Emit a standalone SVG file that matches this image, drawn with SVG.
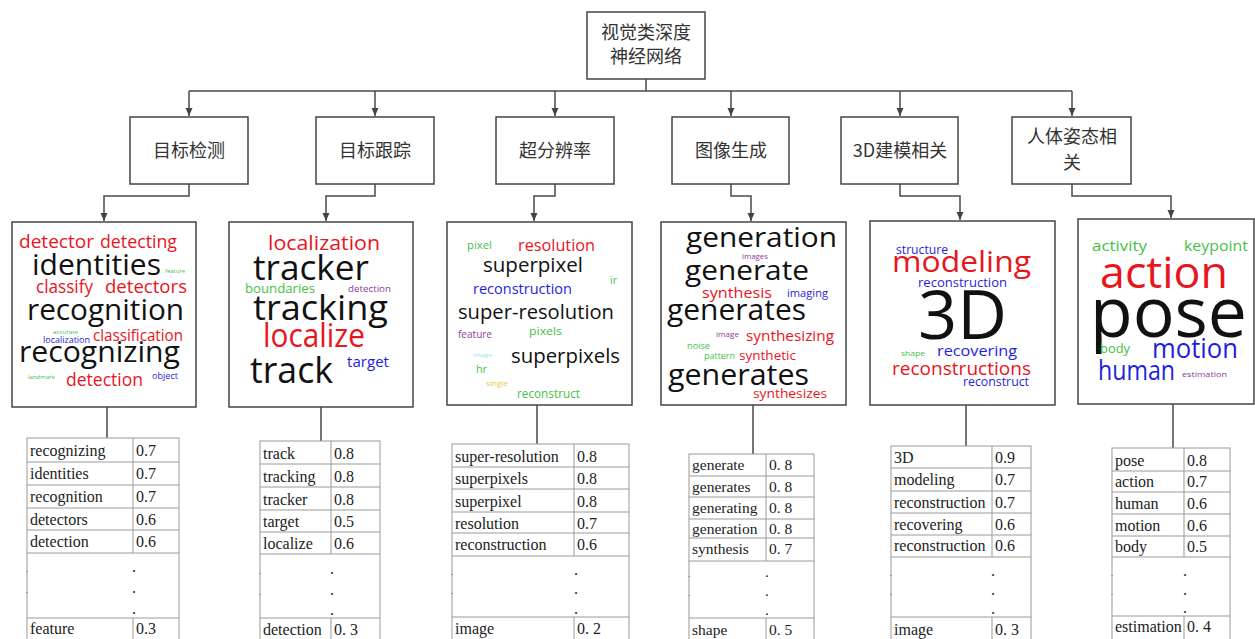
<svg xmlns="http://www.w3.org/2000/svg" width="1255" height="639" viewBox="0 0 1255 639">
<defs>
<marker id="arr" markerWidth="8" markerHeight="8" refX="8" refY="4" orient="auto" markerUnits="userSpaceOnUse">
<path d="M0,0.5 L8,4 L0,7.5 z" fill="#444"/>
</marker>
<style>
.box{fill:#fff;stroke:#444;stroke-width:1.5}
.cloud{fill:#fff;stroke:#444;stroke-width:1.5}
.cn{font-family:"Noto Sans CJK SC","Noto Sans",sans-serif;font-size:18px;fill:#333;text-anchor:middle}
.w{font-family:"Open Sans","DejaVu Sans",sans-serif}
.k{fill:#111}.r{fill:#e8151d}.b{fill:#1e1ee0}.g{fill:#45bf45}.p{fill:#8b3c99}.c{fill:#9ee3e3}.y{fill:#e8c94a}
.tb{fill:#fff;stroke:#9a9a9a;stroke-width:1}
.tl{stroke:#9a9a9a;stroke-width:1}
.t{font-family:"Liberation Serif","Times New Roman",serif;font-size:16px;fill:#222}
.t4{font-size:15.5px}
.ln{fill:none;stroke:#4a4a4a;stroke-width:1.5}
</style>
</defs>
<rect width="1255" height="639" fill="#fff"/>

<g id="connectors">
<path class="ln" d="M646,79 V91 M189,91 H1072"/>
<path class="ln" d="M189,91 V116" marker-end="url(#arr)"/>
<path class="ln" d="M375,91 V116" marker-end="url(#arr)"/>
<path class="ln" d="M555,91 V116" marker-end="url(#arr)"/>
<path class="ln" d="M731,91 V116" marker-end="url(#arr)"/>
<path class="ln" d="M900,91 V116" marker-end="url(#arr)"/>
<path class="ln" d="M1072,91 V116" marker-end="url(#arr)"/>
<path class="ln" d="M189,184 V196 H104 V221" marker-end="url(#arr)"/>
<path class="ln" d="M375,184 V196 H326 V221" marker-end="url(#arr)"/>
<path class="ln" d="M555,184 V196 H534 V221" marker-end="url(#arr)"/>
<path class="ln" d="M731,184 V196 H751 V221" marker-end="url(#arr)"/>
<path class="ln" d="M900,184 V196 H960 V220" marker-end="url(#arr)"/>
<path class="ln" d="M1072,184 V196 H1171 V218" marker-end="url(#arr)"/>
<path class="ln" d="M107,407 V438 M321,407 V441 M537,405 V444 M753,405 V454 M966,405 V446 M1173,404 V448"/>
</g>

<g id="root">
<rect class="box" x="587" y="12" width="118" height="67"/>
<text class="cn" x="646" y="39">视觉类深度</text>
<text class="cn" x="646" y="63">神经网络</text>
</g>

<g id="n-detect"><rect class="box" x="130" y="117" width="118" height="67"/><text class="cn" x="189" y="157">目标检测</text></g>
<g id="n-track"><rect class="box" x="316" y="117" width="118" height="67"/><text class="cn" x="375" y="157">目标跟踪</text></g>
<g id="n-sr"><rect class="box" x="496" y="117" width="118" height="67"/><text class="cn" x="555" y="157">超分辨率</text></g>
<g id="n-gen"><rect class="box" x="672" y="117" width="117" height="67"/><text class="cn" x="731" y="157">图像生成</text></g>
<g id="n-3d"><rect class="box" x="841" y="117" width="117" height="67"/><text class="cn" x="900" y="157">3D建模相关</text></g>
<g id="n-pose"><rect class="box" x="1012" y="117" width="119" height="67"/><text class="cn" x="1072" y="143">人体姿态相</text><text class="cn" x="1072" y="169">关</text></g>

<g id="cloud-detect" class="w">
<rect class="cloud" x="12" y="222" width="184" height="185"/>
<text class="r" x="19" y="248" font-size="18" textLength="75" lengthAdjust="spacingAndGlyphs">detector</text>
<text class="r" x="100" y="248" font-size="18" textLength="77" lengthAdjust="spacingAndGlyphs">detecting</text>
<text class="k" x="32" y="275" font-size="29" textLength="129" lengthAdjust="spacingAndGlyphs">identities</text>
<text class="g" x="165" y="273" font-size="6" textLength="20" lengthAdjust="spacingAndGlyphs">feature</text>
<text class="r" x="36" y="293" font-size="18" textLength="57" lengthAdjust="spacingAndGlyphs">classify</text>
<text class="r" x="105" y="293" font-size="18" textLength="82" lengthAdjust="spacingAndGlyphs">detectors</text>
<text class="k" x="27" y="320" font-size="30" textLength="157" lengthAdjust="spacingAndGlyphs">recognition</text>
<text class="g" x="53" y="334" font-size="6" textLength="25" lengthAdjust="spacingAndGlyphs">accurate</text>
<text class="b" x="43" y="343" font-size="9" textLength="47" lengthAdjust="spacingAndGlyphs">localization</text>
<text class="r" x="93" y="341" font-size="16" textLength="90" lengthAdjust="spacingAndGlyphs">classification</text>
<text class="k" x="19" y="362" font-size="30" textLength="161" lengthAdjust="spacingAndGlyphs">recognizing</text>
<text class="g" x="28" y="379" font-size="6" textLength="27" lengthAdjust="spacingAndGlyphs">landmark</text>
<text class="r" x="66" y="386" font-size="18" textLength="77" lengthAdjust="spacingAndGlyphs">detection</text>
<text class="b" x="152" y="379" font-size="9" textLength="26" lengthAdjust="spacingAndGlyphs">object</text>
</g>

<g id="cloud-track" class="w">
<rect class="cloud" x="229" y="222" width="184" height="185"/>
<text class="r" x="268" y="250" font-size="20" textLength="112" lengthAdjust="spacingAndGlyphs">localization</text>
<text class="k" x="253" y="280" font-size="35" textLength="116" lengthAdjust="spacingAndGlyphs">tracker</text>
<text class="g" x="245" y="293" font-size="13" textLength="70" lengthAdjust="spacingAndGlyphs">boundaries</text>
<text class="p" x="348" y="292" font-size="9" textLength="43" lengthAdjust="spacingAndGlyphs">detection</text>
<text class="k" x="253" y="320" font-size="35" textLength="135" lengthAdjust="spacingAndGlyphs">tracking</text>
<text class="r" x="263" y="347" font-size="32" textLength="102" lengthAdjust="spacingAndGlyphs">localize</text>
<text class="k" x="250" y="383" font-size="37" textLength="83" lengthAdjust="spacingAndGlyphs">track</text>
<text class="b" x="347" y="367" font-size="14" textLength="42" lengthAdjust="spacingAndGlyphs">target</text>
</g>

<g id="cloud-sr" class="w">
<rect class="cloud" x="447" y="222" width="185" height="183"/>
<text class="g" x="467" y="249" font-size="10" textLength="25" lengthAdjust="spacingAndGlyphs">pixel</text>
<text class="r" x="518" y="251" font-size="16" textLength="77" lengthAdjust="spacingAndGlyphs">resolution</text>
<text class="k" x="483" y="272" font-size="20" textLength="100" lengthAdjust="spacingAndGlyphs">superpixel</text>
<text class="g" x="610" y="284" font-size="10" textLength="7" lengthAdjust="spacingAndGlyphs">ir</text>
<text class="b" x="473" y="294" font-size="14" textLength="99" lengthAdjust="spacingAndGlyphs">reconstruction</text>
<text class="k" x="458" y="319" font-size="20" textLength="156" lengthAdjust="spacingAndGlyphs">super-resolution</text>
<text class="p" x="458" y="338" font-size="10" textLength="34" lengthAdjust="spacingAndGlyphs">feature</text>
<text class="g" x="529" y="335" font-size="11" textLength="33" lengthAdjust="spacingAndGlyphs">pixels</text>
<text class="c" x="473" y="357" font-size="6" textLength="19" lengthAdjust="spacingAndGlyphs">image</text>
<text class="k" x="511" y="363" font-size="20" textLength="109" lengthAdjust="spacingAndGlyphs">superpixels</text>
<text class="g" x="476" y="373" font-size="11" textLength="11" lengthAdjust="spacingAndGlyphs">hr</text>
<text class="y" x="486" y="386" font-size="7" textLength="22" lengthAdjust="spacingAndGlyphs">single</text>
<text class="g" x="517" y="398" font-size="12" textLength="63" lengthAdjust="spacingAndGlyphs">reconstruct</text>
</g>

<g id="cloud-gen" class="w">
<rect class="cloud" x="661" y="222" width="185" height="183"/>
<text class="k" x="686" y="247" font-size="28" textLength="151" lengthAdjust="spacingAndGlyphs">generation</text>
<text class="p" x="742" y="259" font-size="7" textLength="26" lengthAdjust="spacingAndGlyphs">images</text>
<text class="k" x="685" y="280" font-size="28" textLength="124" lengthAdjust="spacingAndGlyphs">generate</text>
<text class="r" x="702" y="298" font-size="14" textLength="70" lengthAdjust="spacingAndGlyphs">synthesis</text>
<text class="b" x="787" y="297" font-size="11" textLength="41" lengthAdjust="spacingAndGlyphs">imaging</text>
<text class="k" x="667" y="320" font-size="30" textLength="139" lengthAdjust="spacingAndGlyphs">generates</text>
<text class="p" x="716" y="337" font-size="7" textLength="23" lengthAdjust="spacingAndGlyphs">image</text>
<text class="r" x="746" y="341" font-size="15" textLength="88" lengthAdjust="spacingAndGlyphs">synthesizing</text>
<text class="g" x="687" y="349" font-size="9" textLength="23" lengthAdjust="spacingAndGlyphs">noise</text>
<text class="g" x="704" y="359" font-size="9" textLength="31" lengthAdjust="spacingAndGlyphs">pattern</text>
<text class="r" x="739" y="360" font-size="13" textLength="57" lengthAdjust="spacingAndGlyphs">synthetic</text>
<text class="k" x="668" y="385" font-size="30" textLength="141" lengthAdjust="spacingAndGlyphs">generates</text>
<text class="r" x="753" y="398" font-size="13" textLength="74" lengthAdjust="spacingAndGlyphs">synthesizes</text>
</g>

<g id="cloud-3d" class="w">
<rect class="cloud" x="870" y="221" width="185" height="184"/>
<text class="b" x="896" y="254" font-size="12" textLength="52" lengthAdjust="spacingAndGlyphs">structure</text>
<text class="r" x="892" y="272" font-size="29" textLength="139" lengthAdjust="spacingAndGlyphs">modeling</text>
<text class="b" x="918" y="287" font-size="13" textLength="89" lengthAdjust="spacingAndGlyphs">reconstruction</text>
<text class="k" x="918" y="339" font-size="68" textLength="89" lengthAdjust="spacingAndGlyphs">3D</text>
<text class="g" x="901" y="356" font-size="7" textLength="24" lengthAdjust="spacingAndGlyphs">shape</text>
<text class="b" x="937" y="356" font-size="15" textLength="80" lengthAdjust="spacingAndGlyphs">recovering</text>
<text class="r" x="892" y="375" font-size="19" textLength="139" lengthAdjust="spacingAndGlyphs">reconstructions</text>
<text class="b" x="963" y="386" font-size="12" textLength="66" lengthAdjust="spacingAndGlyphs">reconstruct</text>
</g>

<g id="cloud-pose" class="w">
<rect class="cloud" x="1078" y="219" width="176" height="185"/>
<text class="g" x="1092" y="251" font-size="14" textLength="55" lengthAdjust="spacingAndGlyphs">activity</text>
<text class="g" x="1184" y="251" font-size="14" textLength="64" lengthAdjust="spacingAndGlyphs">keypoint</text>
<text class="r" x="1100" y="288" font-size="44" textLength="128" lengthAdjust="spacingAndGlyphs">action</text>
<text class="k" x="1090" y="337" font-size="70" textLength="157" lengthAdjust="spacingAndGlyphs">pose</text>
<text class="g" x="1100" y="353" font-size="12" textLength="30" lengthAdjust="spacingAndGlyphs">body</text>
<text class="b" x="1152" y="358" font-size="27" textLength="86" lengthAdjust="spacingAndGlyphs">motion</text>
<text class="b" x="1098" y="380" font-size="27" textLength="77" lengthAdjust="spacingAndGlyphs">human</text>
<text class="p" x="1182" y="377" font-size="8" textLength="45" lengthAdjust="spacingAndGlyphs">estimation</text>
</g>

<g id="table-detect" class="t">
<rect class="tb" x="27" y="438" width="152" height="210"/>
<path class="tl" d="M27,462 H179 M27,485 H179 M27,508 H179 M27,530 H179 M27,553 H179 M27,618 H179 M133,438 V553 M133,618 V648"/>
<text x="30" y="456">recognizing</text><text x="136" y="456">0.7</text>
<text x="30" y="479">identities</text><text x="136" y="479">0.7</text>
<text x="30" y="502">recognition</text><text x="136" y="502">0.7</text>
<text x="30" y="525">detectors</text><text x="136" y="525">0.6</text>
<text x="30" y="547">detection</text><text x="136" y="547">0.6</text>
<text x="132" y="572">.</text><text x="132" y="593">.</text><text x="132" y="614">.</text>
<text x="26" y="572" font-size="8">.</text><text x="26" y="593" font-size="8">.</text>
<text x="30" y="634">feature</text><text x="136" y="634">0.3</text>
</g>

<g id="table-track" class="t">
<rect class="tb" x="260" y="441" width="120" height="207"/>
<path class="tl" d="M260,464 H380 M260,487 H380 M260,510 H380 M260,532 H380 M260,554 H380 M260,618 H380 M331,441 V554 M331,618 V648"/>
<text x="263" y="459">track</text><text x="334" y="459">0.8</text>
<text x="263" y="482">tracking</text><text x="334" y="482">0.8</text>
<text x="263" y="505">tracker</text><text x="334" y="505">0.8</text>
<text x="263" y="527">target</text><text x="334" y="527">0.5</text>
<text x="263" y="549">localize</text><text x="334" y="549">0.6</text>
<text x="330" y="574">.</text><text x="330" y="595">.</text><text x="330" y="615">.</text>
<text x="259" y="574" font-size="8">.</text><text x="259" y="595" font-size="8">.</text>
<text x="263" y="635">detection</text><text x="334" y="635">0. 3</text>
</g>

<g id="table-sr" class="t">
<rect class="tb" x="452" y="444" width="177" height="204"/>
<path class="tl" d="M452,467 H629 M452,489 H629 M452,512 H629 M452,533 H629 M452,556 H629 M452,617 H629 M574,444 V556 M574,617 V648"/>
<text x="455" y="462">super-resolution</text><text x="577" y="462">0.8</text>
<text x="455" y="484">superpixels</text><text x="577" y="484">0.8</text>
<text x="455" y="507">superpixel</text><text x="577" y="507">0.8</text>
<text x="455" y="529">resolution</text><text x="577" y="529">0.7</text>
<text x="455" y="550">reconstruction</text><text x="577" y="550">0.6</text>
<text x="574" y="575">.</text><text x="574" y="594">.</text><text x="574" y="614">.</text>
<text x="451" y="575" font-size="8">.</text><text x="451" y="594" font-size="8">.</text>
<text x="455" y="634">image</text><text x="577" y="634">0. 2</text>
</g>

<g id="table-gen" class="t">
<rect class="tb" x="689" y="454" width="125" height="194"/>
<path class="tl" d="M689,476 H814 M689,497 H814 M689,519 H814 M689,538 H814 M689,561 H814 M689,618 H814 M766,454 V561 M766,618 V648"/>
<g class="t4">
<text x="692" y="470">generate</text><text x="769" y="470">0. 8</text>
<text x="692" y="492">generates</text><text x="769" y="492">0. 8</text>
<text x="692" y="513">generating</text><text x="769" y="513">0. 8</text>
<text x="692" y="534">generation</text><text x="769" y="534">0. 8</text>
<text x="692" y="554">synthesis</text><text x="769" y="554">0. 7</text>
<text x="765" y="577">.</text><text x="765" y="596">.</text><text x="765" y="615">.</text>
<text x="688" y="577" font-size="8">.</text><text x="688" y="596" font-size="8">.</text>
<text x="692" y="635">shape</text><text x="769" y="635">0. 5</text>
</g>
</g>

<g id="table-3d" class="t">
<rect class="tb" x="891" y="446" width="140" height="202"/>
<path class="tl" d="M891,468 H1031 M891,491 H1031 M891,513 H1031 M891,535 H1031 M891,557 H1031 M891,617 H1031 M992,446 V557 M992,617 V648"/>
<text x="894" y="463">3D</text><text x="995" y="463">0.9</text>
<text x="894" y="485">modeling</text><text x="995" y="485">0.7</text>
<text x="894" y="508">reconstruction</text><text x="995" y="508">0.7</text>
<text x="894" y="530">recovering</text><text x="995" y="530">0.6</text>
<text x="894" y="551">reconstruction</text><text x="995" y="551">0.6</text>
<text x="991" y="576">.</text><text x="991" y="595">.</text><text x="991" y="614">.</text>
<text x="890" y="576" font-size="8">.</text><text x="890" y="595" font-size="8">.</text>
<text x="894" y="635">image</text><text x="995" y="635">0. 3</text>
</g>

<g id="table-pose" class="t">
<rect class="tb" x="1112" y="448" width="118" height="200"/>
<path class="tl" d="M1112,471 H1230 M1112,492 H1230 M1112,514 H1230 M1112,536 H1230 M1112,557 H1230 M1112,616 H1230 M1184,448 V557 M1184,616 V648"/>
<text x="1115" y="466">pose</text><text x="1187" y="466">0.8</text>
<text x="1115" y="487">action</text><text x="1187" y="487">0.7</text>
<text x="1115" y="509">human</text><text x="1187" y="509">0.6</text>
<text x="1115" y="531">motion</text><text x="1187" y="531">0.6</text>
<text x="1115" y="552">body</text><text x="1187" y="552">0.5</text>
<text x="1183" y="576">.</text><text x="1183" y="595">.</text><text x="1183" y="613">.</text>
<text x="1111" y="576" font-size="8">.</text><text x="1111" y="595" font-size="8">.</text>
<text x="1115" y="632">estimation</text><text x="1187" y="632">0. 4</text>
</g>
</svg>
